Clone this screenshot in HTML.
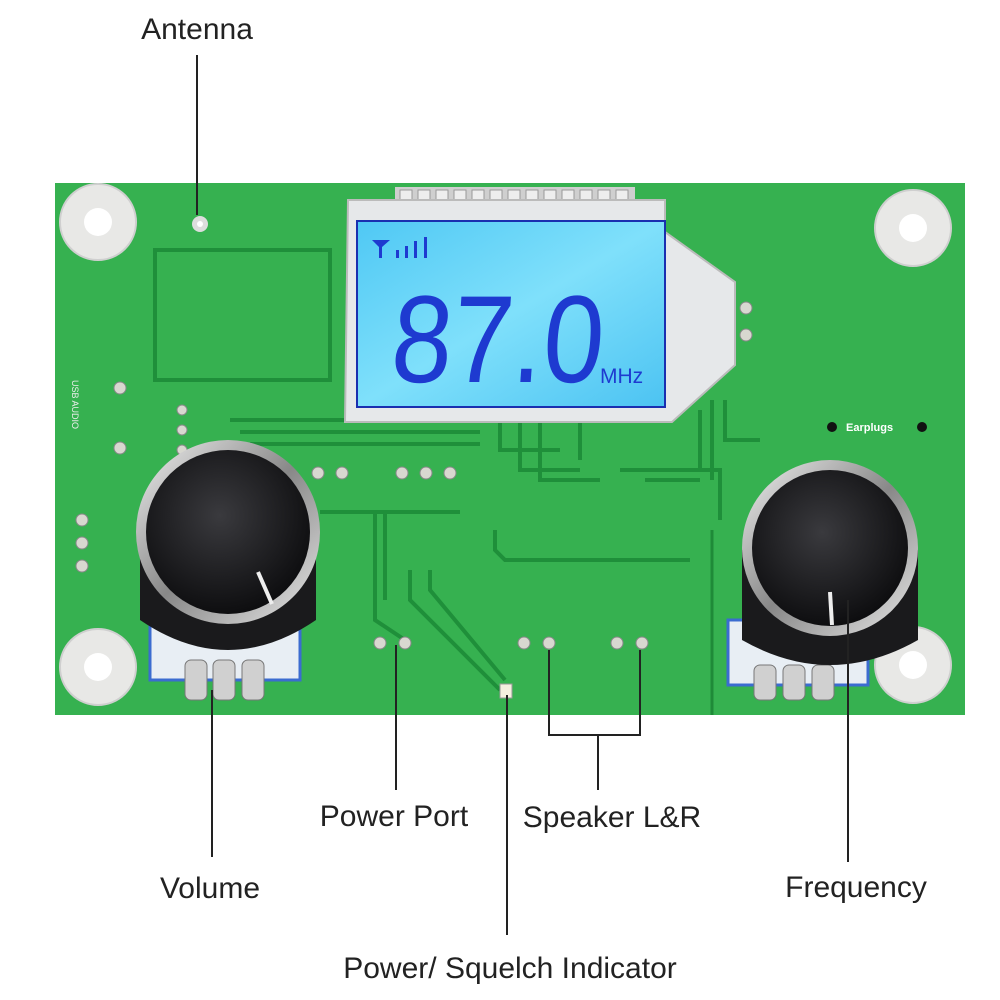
<!DOCTYPE html>
<html><head><meta charset="utf-8"><style>
html,body{margin:0;padding:0;background:#fff;width:1000px;height:1000px;overflow:hidden}
svg{display:block}
text{font-family:"Liberation Sans",sans-serif}
</style></head><body>
<svg width="1000" height="1000" viewBox="0 0 1000 1000">
<defs>
<radialGradient id="knob" cx="0.45" cy="0.4" r="0.6">
<stop offset="0" stop-color="#3a3a3e"/><stop offset="1" stop-color="#0e0e10"/></radialGradient>
<linearGradient id="lcd" x1="0" y1="0" x2="1" y2="1">
<stop offset="0" stop-color="#4fc8f4"/><stop offset="0.5" stop-color="#7fe0fb"/><stop offset="1" stop-color="#4cc3f2"/></linearGradient>
<linearGradient id="ring" x1="0" y1="0" x2="1" y2="1">
<stop offset="0" stop-color="#f0f0f0"/><stop offset="0.5" stop-color="#888"/><stop offset="1" stop-color="#e8e8e8"/></linearGradient>
</defs>
<rect x="55" y="183" width="910" height="532" fill="#36b150"/>
<line x1="712" y1="530" x2="712" y2="715" stroke="#1f8a38" stroke-width="3"/>
<g stroke="#1f8f3a" stroke-width="4" fill="none">
<rect x="155" y="250" width="175" height="130"/>
<path d="M230 420 H480 M240 432 H480 M250 444 H480 M500 420 V450 H560 M520 420 V470 H580 M540 420 V480 H600 M580 420 V460"/>
<path d="M700 410 V470 H720 V520 M712 400 V480 M725 400 V440 H760"/>
<path d="M320 512 H460 M375 512 V620 L405 640 M385 512 V600 M410 570 L410 600 L500 690 M430 570 V590 L505 680"/>
<path d="M495 530 V550 L505 560 H690 M620 470 H700 M645 480 H700"/>
</g>
<g fill="#e8e8e6" stroke="#cfcfcf" stroke-width="2">
<circle cx="98" cy="222" r="38"/><circle cx="913" cy="228" r="38"/>
<circle cx="98" cy="667" r="38"/><circle cx="913" cy="665" r="38"/>
</g>
<g fill="#fff"><circle cx="98" cy="222" r="14"/><circle cx="913" cy="228" r="14"/><circle cx="98" cy="667" r="14"/><circle cx="913" cy="665" r="14"/></g>
<circle cx="200" cy="224" r="8" fill="#ddd"/><circle cx="200" cy="224" r="3" fill="#fff"/>
<g fill="#d8d8d0" stroke="#888" stroke-width="1">
<circle cx="318" cy="473" r="6"/><circle cx="342" cy="473" r="6"/>
<circle cx="402" cy="473" r="6"/><circle cx="426" cy="473" r="6"/><circle cx="450" cy="473" r="6"/>
<circle cx="380" cy="643" r="6"/><circle cx="405" cy="643" r="6"/>
<circle cx="524" cy="643" r="6"/><circle cx="549" cy="643" r="6"/>
<circle cx="617" cy="643" r="6"/><circle cx="642" cy="643" r="6"/>
<circle cx="182" cy="410" r="5"/><circle cx="182" cy="430" r="5"/><circle cx="182" cy="450" r="5"/>
<circle cx="82" cy="520" r="6"/><circle cx="82" cy="543" r="6"/><circle cx="82" cy="566" r="6"/>
<circle cx="120" cy="388" r="6"/><circle cx="120" cy="448" r="6"/>
<circle cx="746" cy="308" r="6"/><circle cx="746" cy="335" r="6"/>
</g>
<text x="72" y="380" font-size="9" fill="#eee" transform="rotate(90 72 380)">USB AUDIO</text>
<circle cx="832" cy="427" r="5" fill="#111"/><circle cx="922" cy="427" r="5" fill="#111"/>
<text x="846" y="431" font-size="11" font-weight="bold" fill="#fff">Earplugs</text>
<rect x="500" y="684" width="12" height="14" fill="#f5f0e0" stroke="#999"/>
<rect x="395" y="187" width="240" height="20" fill="#cfcfcf"/>
<g fill="#eee" stroke="#999" stroke-width="1">
<rect x="400" y="190" width="12" height="14"/><rect x="418" y="190" width="12" height="14"/><rect x="436" y="190" width="12" height="14"/><rect x="454" y="190" width="12" height="14"/><rect x="472" y="190" width="12" height="14"/><rect x="490" y="190" width="12" height="14"/><rect x="508" y="190" width="12" height="14"/><rect x="526" y="190" width="12" height="14"/><rect x="544" y="190" width="12" height="14"/><rect x="562" y="190" width="12" height="14"/><rect x="580" y="190" width="12" height="14"/><rect x="598" y="190" width="12" height="14"/><rect x="616" y="190" width="12" height="14"/></g>
<path d="M348 200 H665 V232 L735 282 V365 L672 422 H345 Z" fill="#e6e8ea" stroke="#bbb" stroke-width="2"/>
<rect x="357" y="221" width="308" height="186" fill="url(#lcd)" stroke="#1a2fb0" stroke-width="2"/>
<g fill="#1e3ad0">
<path d="M372 240 H390 L382 247 V258 H379 V247 Z"/>
<rect x="396" y="250" width="3" height="8"/><rect x="405" y="246" width="3" height="12"/><rect x="414" y="241" width="3" height="17"/><rect x="424" y="237" width="3" height="21"/>
</g>
<text x="390" y="382" font-size="124" fill="#1e3ad0" textLength="212" lengthAdjust="spacingAndGlyphs" transform="skewX(-4) translate(26 0)">87.0</text>
<text x="600" y="383" font-size="21" fill="#1e3ad0">MHz</text>
<rect x="150" y="600" width="150" height="80" fill="#e8eef4" stroke="#3b6cd0" stroke-width="3"/>
<g fill="#d0d0d0" stroke="#777"><rect x="185" y="660" width="22" height="40" rx="6"/><rect x="213" y="660" width="22" height="40" rx="6"/><rect x="242" y="660" width="22" height="40" rx="6"/></g>
<path d="M140 530 V620 Q228 680 316 620 V530 Z" fill="#1a1a1c"/>
<circle cx="228" cy="532" r="92" fill="url(#ring)"/>
<circle cx="228" cy="532" r="82" fill="url(#knob)"/>
<line x1="258" y1="572" x2="272" y2="604" stroke="#eee" stroke-width="4"/>
<rect x="728" y="620" width="140" height="65" fill="#e8eef4" stroke="#3b6cd0" stroke-width="3"/>
<g fill="#d0d0d0" stroke="#777"><rect x="754" y="665" width="22" height="35" rx="6"/><rect x="783" y="665" width="22" height="35" rx="6"/><rect x="812" y="665" width="22" height="35" rx="6"/></g>
<path d="M742 550 V640 Q830 690 918 640 V550 Z" fill="#1a1a1c"/>
<circle cx="830" cy="548" r="88" fill="url(#ring)"/>
<circle cx="830" cy="548" r="78" fill="url(#knob)"/>
<line x1="830" y1="592" x2="832" y2="625" stroke="#eee" stroke-width="4"/>
<g stroke="#222" stroke-width="2" fill="none">
<line x1="197" y1="55" x2="197" y2="215"/>
<line x1="212" y1="690" x2="212" y2="857"/>
<line x1="396" y1="645" x2="396" y2="790"/>
<line x1="507" y1="695" x2="507" y2="935"/>
<path d="M549 650 V735 H640 V650 M598 735 V790"/>
<line x1="848" y1="600" x2="848" y2="862"/>
</g>
<g font-size="30" fill="#222" text-anchor="middle">
<text x="197" y="39">Antenna</text>
<text x="394" y="826">Power Port</text>
<text x="612" y="827">Speaker L&amp;R</text>
<text x="210" y="898">Volume</text>
<text x="856" y="897">Frequency</text>
<text x="510" y="978">Power/ Squelch Indicator</text>
</g>
</svg>
</body></html>
